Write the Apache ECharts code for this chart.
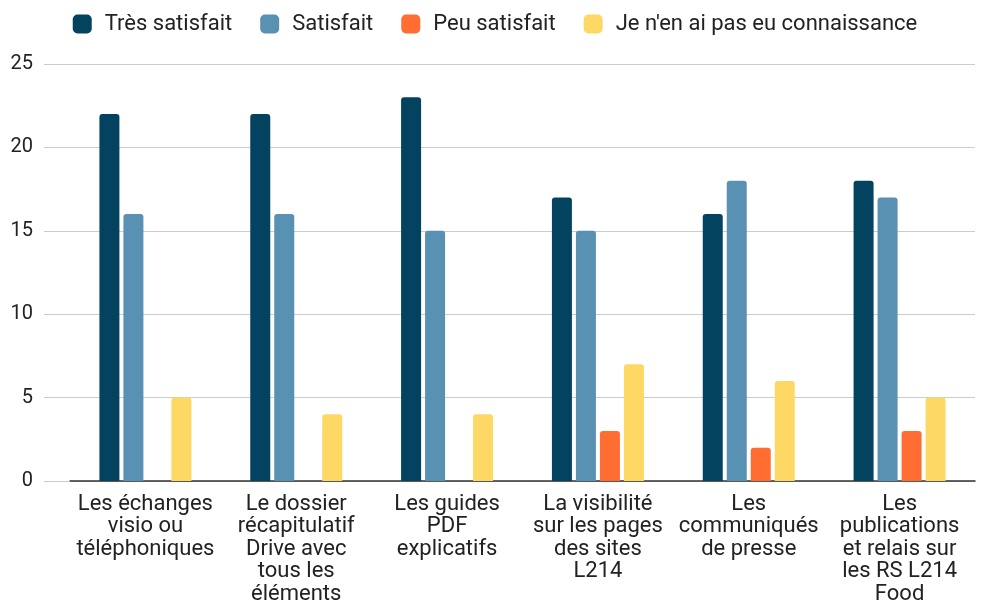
<!DOCTYPE html>
<html>
<head>
<meta charset="utf-8">
<script src="https://cdn.jsdelivr.net/npm/echarts@6/dist/echarts.min.js"></script>
<style>
html, body { margin: 0; padding: 0; background: #fff; }
#chart { width: 990px; height: 603px; }
</style>
</head>
<body>
<div id="chart"></div>
<script>
const categories = [
    'Les échanges\nvisio ou\ntéléphoniques',
    'Le dossier\nrécapitulatif\nDrive avec\ntous les\néléments',
    'Les guides\nPDF\nexplicatifs',
    'La visibilité\nsur les pages\ndes sites\nL214',
    'Les\ncommuniqués\nde presse',
    'Les\npublications\net relais sur\nles RS L214\nFood'
]
const seriesNames = ['Très satisfait', 'Satisfait', 'Peu satisfait', "Je n'en ai pas eu connaissance"]
const tresSatisfait = [22, 22, 23, 17, 16, 18]
const satisfait = [16, 16, 15, 15, 18, 17]
const peuSatisfait = [0, 0, 0, 3, 2, 3]
const pasConnaissance = [5, 4, 4, 7, 6, 5]
const yTicks = [0, 5, 10, 15, 20, 25]

const colors = ['#03435f', '#5891b2', '#ff6d33', '#fed864']
const font = 'Roboto, "Noto Sans", sans-serif'

const chart = echarts.init(document.getElementById('chart'))

const makeBar = (name, data, color) => ({
    name: name,
    type: 'bar',
    data: data,
    barWidth: 20,
    barGap: '20%',
    itemStyle: {
        color: color,
        borderRadius: [3, 3, 0, 0]
    }
})

chart.setOption({
    animation: false,
    color: colors,
    legend: {
        top: 8,
        left: 'center',
        itemWidth: 19,
        itemHeight: 19,
        itemGap: 28,
        icon: 'roundRect',
        textStyle: {
            fontFamily: font,
            fontSize: 22,
            color: '#222',
            padding: [0, 0, 0, 8]
        },
        data: seriesNames
    },
    grid: {
        left: 70,
        right: 15,
        top: 64,
        bottom: 122,
        outerBoundsMode: 'none'
    },
    xAxis: {
        type: 'category',
        data: categories,
        axisTick: { show: false },
        axisLine: { lineStyle: { color: '#333', width: 1.5 } },
        axisLabel: {
            interval: 0,
            margin: 12,
            fontFamily: font,
            fontSize: 22,
            lineHeight: 22.5,
            color: '#222'
        }
    },
    yAxis: {
        type: 'value',
        min: yTicks[0],
        max: yTicks[yTicks.length - 1],
        interval: 5,
        axisLine: { show: false },
        axisTick: { show: true, length: 26, lineStyle: { color: '#ccc' } },
        splitLine: { lineStyle: { color: '#ccc' } },
        axisLabel: {
            margin: 37,
            fontFamily: font,
            fontSize: 20,
            color: '#222'
        }
    },
    series: [
        makeBar(seriesNames[0], tresSatisfait, colors[0]),
        makeBar(seriesNames[1], satisfait, colors[1]),
        makeBar(seriesNames[2], peuSatisfait, colors[2]),
        makeBar(seriesNames[3], pasConnaissance, colors[3])
    ]
})
</script>
</body>
</html>
